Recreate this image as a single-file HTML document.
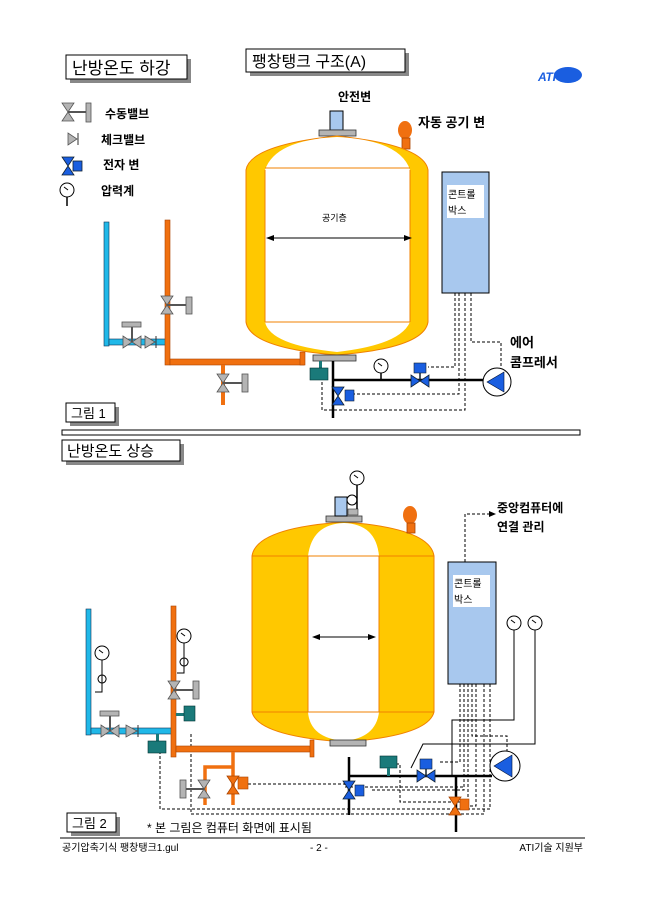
<!DOCTYPE html>
<html><head><meta charset="utf-8"><style>
html,body{margin:0;padding:0;background:#fff;}
svg{display:block;}
text{font-family:"Liberation Sans","Noto Sans CJK KR",sans-serif;fill:#000;}
.b{font-weight:bold;}
</style></head><body>
<svg width="645" height="912" viewBox="0 0 645 912" xmlns="http://www.w3.org/2000/svg">
<defs>
<g id="bv"><path d="M-6,-9 L6,-9 L0,0 Z M-6,9 L6,9 L0,0 Z" fill="#b4b4b4" stroke="#555" stroke-width="0.8"/></g>
<g id="bh"><path d="M-9,-6 L-9,6 L0,0 Z M9,-6 L9,6 L0,0 Z" fill="#b4b4b4" stroke="#555" stroke-width="0.8"/></g>
<g id="sv"><path d="M-6,-9 L6,-9 L0,0 Z M-6,9 L6,9 L0,0 Z" fill="#1a5ee0" stroke="#123" stroke-width="0.8"/></g>
<g id="sh"><path d="M-9,-6 L-9,6 L0,0 Z M9,-6 L9,6 L0,0 Z" fill="#1a5ee0" stroke="#123" stroke-width="0.8"/></g>
<g id="ov"><path d="M-6,-9 L6,-9 L0,0 Z M-6,9 L6,9 L0,0 Z" fill="#f07010" stroke="#a40" stroke-width="0.8"/></g>
<g id="g"><circle cx="0" cy="0" r="7" fill="#fff" stroke="#000"/><line x1="-3" y1="-3" x2="1" y2="0" stroke="#000"/></g>
</defs>

<rect x="70" y="59" width="121" height="24" fill="#888"/>
<rect x="66" y="55" width="121" height="24" fill="#fff" stroke="#000"/>
<text x="72" y="74" font-size="17">난방온도 하강</text>
<rect x="250" y="53" width="159" height="23" fill="#888"/>
<rect x="246" y="49" width="159" height="23" fill="#fff" stroke="#000"/>
<text x="252" y="67" font-size="16">팽창탱크 구조(A)</text>
<ellipse cx="568" cy="75" rx="14" ry="8" fill="#1a5ee0"/>
<text x="538" y="81" font-size="12" font-style="italic" class="b" style="fill:#1a5ee0" textLength="18">ATI</text>

<use href="#bv" x="68" y="112"/><line x1="68" y1="112" x2="86" y2="112" stroke="#555" stroke-width="2"/><rect x="86" y="103" width="5" height="19" fill="#b4b4b4" stroke="#555" stroke-width="0.8"/>
<text x="105" y="118" font-size="12" class="b">수동밸브</text>
<path d="M68,133 L68,145 L77,139 Z" fill="#b4b4b4" stroke="#555" stroke-width="0.8"/><line x1="78" y1="133" x2="78" y2="145" stroke="#333"/>
<text x="101" y="144" font-size="12" class="b">체크밸브</text>
<use href="#sv" x="68" y="166"/><rect x="73" y="161" width="9" height="10" fill="#1a5ee0" stroke="#123" stroke-width="0.8"/>
<text x="103" y="169" font-size="12" class="b">전자 변</text>
<use href="#g" x="67" y="190"/><line x1="67" y1="197" x2="67" y2="206" stroke="#000" stroke-width="1.5"/>
<text x="101" y="195" font-size="12" class="b">압력계</text>

<text x="338" y="101" font-size="12" class="b">안전변</text>
<rect x="330" y="111" width="13" height="19" fill="#a8c8ee" stroke="#000"/>
<rect x="319" y="130" width="37" height="6" fill="#b4b4b4" stroke="#333" stroke-width="0.8"/>
<ellipse cx="405" cy="130" rx="7" ry="9" fill="#f07010"/>
<rect x="402" y="138" width="8" height="11" fill="#f07010" stroke="#a40" stroke-width="0.8"/>
<text x="418" y="127" font-size="13" class="b">자동 공기 변</text>
<path d="M246,170 Q250,145 337,136 Q424,145 428,170 L428,322 Q424,348 337,355 Q250,348 246,322 Z" fill="#ffc800" stroke="#f08000" stroke-width="1"/>
<path d="M265,170 Q275,140 337,137 Q400,140 410,170 L410,322 Q400,345 337,352 Q270,345 265,322 Z" fill="#fff"/>
<line x1="265" y1="168" x2="410" y2="168" stroke="#f08000"/>
<line x1="265" y1="322" x2="410" y2="322" stroke="#f08000"/>
<line x1="265" y1="170" x2="265" y2="322" stroke="#f08000"/>
<line x1="410" y1="170" x2="410" y2="322" stroke="#f08000"/>
<text x="322" y="221" font-size="9">공기층</text>
<line x1="270" y1="238" x2="408" y2="238" stroke="#000"/>
<path d="M266,238 L274,235 L274,241 Z M412,238 L404,235 L404,241 Z" fill="#000"/>
<rect x="442" y="172" width="47" height="121" fill="#a8c8ee" stroke="#000"/>
<rect x="447" y="185" width="37" height="33" fill="#fff"/>
<text x="448" y="198" font-size="10">콘트롤</text>
<text x="448" y="214" font-size="10">박스</text>
<g fill="none" stroke="#000" stroke-dasharray="3,2">
<path d="M455,293 L455,367 L428,367"/>
<path d="M459,293 L459,394 L348,394"/>
<path d="M465,293 L465,410 L322,410 L322,380"/>
<path d="M471,293 L471,342 L501,342 L501,367"/>
</g>
<rect x="104" y="222" width="5" height="124" fill="#20b8e8" stroke="#135" stroke-width="0.6"/>
<rect x="109" y="339" width="57" height="6" fill="#20b8e8" stroke="#135" stroke-width="0.6"/>
<rect x="165" y="220" width="5" height="145" fill="#f07010" stroke="#a40" stroke-width="0.6"/>
<rect x="170" y="359" width="134" height="6" fill="#f07010" stroke="#a40" stroke-width="0.6"/>
<rect x="300" y="352" width="5" height="13" fill="#f07010" stroke="#a40" stroke-width="0.6"/>
<rect x="221" y="365" width="4" height="40" fill="#f07010"/>
<use href="#bv" x="167" y="305"/><line x1="167" y1="305" x2="186" y2="305" stroke="#555" stroke-width="2"/><rect x="186" y="297" width="6" height="17" fill="#b4b4b4" stroke="#555" stroke-width="0.8"/>
<use href="#bh" x="132" y="342"/><line x1="132" y1="342" x2="132" y2="327" stroke="#555" stroke-width="2"/><rect x="122" y="322" width="19" height="5" fill="#b4b4b4" stroke="#555" stroke-width="0.8"/>
<path d="M145,336 L145,348 L155,342 Z" fill="#b4b4b4" stroke="#555" stroke-width="0.8"/><line x1="156" y1="336" x2="156" y2="348" stroke="#333"/>
<use href="#bv" x="223" y="383"/><line x1="223" y1="383" x2="242" y2="383" stroke="#555" stroke-width="2"/><rect x="242" y="374" width="6" height="18" fill="#b4b4b4" stroke="#555" stroke-width="0.8"/>
<rect x="313" y="355" width="43" height="6" fill="#b4b4b4" stroke="#333" stroke-width="0.8"/>
<line x1="333" y1="361" x2="333" y2="418" stroke="#000" stroke-width="2.5"/>
<line x1="333" y1="380" x2="483" y2="380" stroke="#000" stroke-width="2.5"/>
<rect x="319" y="361" width="3" height="8" fill="#1a7a7a"/>
<rect x="310" y="368" width="18" height="12" fill="#1a7a7a" stroke="#033" stroke-width="0.6"/>
<use href="#g" x="381" y="366"/><line x1="381" y1="373" x2="381" y2="380" stroke="#000" stroke-width="1.5"/>
<use href="#sh" x="420" y="381"/><line x1="420" y1="381" x2="420" y2="372" stroke="#123" stroke-width="1.5"/><rect x="414" y="363" width="12" height="10" fill="#1a5ee0" stroke="#123" stroke-width="0.6"/>
<use href="#sv" x="338" y="396"/><rect x="345" y="390" width="9" height="11" fill="#1a5ee0" stroke="#123" stroke-width="0.6"/>
<circle cx="497" cy="382" r="14" fill="#fff" stroke="#000"/>
<path d="M487,382 L504,372 L504,392 Z" fill="#1a5ee0" stroke="#013" stroke-width="0.6"/>
<text x="510" y="347" font-size="13" class="b">에어</text>
<text x="510" y="367" font-size="13" class="b">콤프레서</text>
<rect x="70" y="407" width="49" height="19" fill="#888"/>
<rect x="66" y="403" width="49" height="19" fill="#fff" stroke="#000"/>
<text x="71" y="418" font-size="13">그림 1</text>
<rect x="62" y="430" width="518" height="5" fill="#fff" stroke="#000"/>

<rect x="66" y="444" width="118" height="21" fill="#888"/>
<rect x="62" y="440" width="118" height="21" fill="#fff" stroke="#000"/>
<text x="67" y="456" font-size="15">난방온도 상승</text>
<path d="M252,556 Q256,528 344,522 Q430,528 434,556 L434,712 Q428,736 344,742 Q258,736 252,712 Z" fill="#ffc800" stroke="#f08000"/>
<path d="M308,556 Q312,524 344,523 Q376,524 379,556 L379,712 Q376,738 344,741 Q310,738 308,712 Z" fill="#fff"/>
<line x1="252" y1="556" x2="434" y2="556" stroke="#f08000"/>
<line x1="252" y1="712" x2="434" y2="712" stroke="#f08000"/>
<line x1="308" y1="556" x2="308" y2="712" stroke="#f08000"/>
<line x1="379" y1="556" x2="379" y2="712" stroke="#f08000"/>
<rect x="309" y="557" width="69" height="154" fill="#fff"/>
<line x1="314" y1="637" x2="374" y2="637" stroke="#000"/>
<path d="M312,637 L320,634 L320,640 Z M376,637 L368,634 L368,640 Z" fill="#000"/>
<rect x="326" y="516" width="36" height="6" fill="#b4b4b4" stroke="#333" stroke-width="0.8"/>
<rect x="335" y="497" width="12" height="19" fill="#a8c8ee" stroke="#000"/>
<rect x="348" y="509" width="10" height="6" fill="#b4b4b4" stroke="#333" stroke-width="0.6"/>
<circle cx="352" cy="500" r="5" fill="#fff" stroke="#000"/>
<line x1="357" y1="484" x2="357" y2="509" stroke="#000" stroke-width="1.5"/>
<use href="#g" x="357" y="478"/>
<ellipse cx="410" cy="515" rx="7" ry="9" fill="#f07010"/>
<rect x="407" y="523" width="8" height="10" fill="#f07010" stroke="#a40" stroke-width="0.8"/>
<rect x="448" y="562" width="48" height="122" fill="#a8c8ee" stroke="#000"/>
<rect x="453" y="575" width="37" height="32" fill="#fff"/>
<text x="454" y="587" font-size="10">콘트롤</text>
<text x="454" y="603" font-size="10">박스</text>
<path d="M465,562 L465,514 L490,514" fill="none" stroke="#000" stroke-dasharray="3,2"/>
<path d="M489,511 L496,514 L489,517 Z" fill="#000"/>
<text x="497" y="512" font-size="12" class="b">중앙컴퓨터에</text>
<text x="497" y="531" font-size="12" class="b">연결 관리</text>
<use href="#g" x="514" y="623"/><use href="#g" x="535" y="623"/>
<path d="M514,630 L514,720 L452,720 L452,776" fill="none" stroke="#000" stroke-width="1"/>
<path d="M535,630 L535,744 L423,744 L411,768" fill="none" stroke="#000" stroke-width="1"/>
<g fill="none" stroke="#000" stroke-dasharray="3,2">
<path d="M460,684 L460,762 L440,762"/>
<path d="M464,684 L464,790 L370,790"/>
<path d="M468,684 L468,802 L400,802 L400,764 L392,764"/>
<path d="M472,684 L472,736 L507,736 L507,752"/>
<path d="M476,684 L476,806 L467,806"/>
<path d="M484,684 L484,814 L191,814 L191,732"/>
<path d="M490,684 L490,809 L160,809 L160,752"/>
<path d="M248,784 L345,784 L345,787 L465,787"/>
</g>
<rect x="86" y="609" width="5" height="126" fill="#20b8e8" stroke="#135" stroke-width="0.6"/>
<rect x="91" y="728" width="82" height="6" fill="#20b8e8" stroke="#135" stroke-width="0.6"/>
<rect x="171" y="606" width="5" height="151" fill="#f07010" stroke="#a40" stroke-width="0.6"/>
<rect x="176" y="746" width="136" height="6" fill="#f07010" stroke="#a40" stroke-width="0.6"/>
<rect x="310" y="740" width="4" height="17" fill="#f07010" stroke="#a40" stroke-width="0.6"/>
<path d="M233,752 L233,805 M233,767 L205,767 L205,805" fill="none" stroke="#f07010" stroke-width="3.5"/>
<use href="#g" x="102" y="653"/><path d="M102,660 L102,692 L95,692 M102,675 a4,4 0 1 0 0.1,0" fill="none" stroke="#000"/>
<use href="#g" x="184" y="636"/><path d="M184,643 L184,673 L177,673 M184,658 a4,4 0 1 0 0.1,0" fill="none" stroke="#000"/>
<use href="#bh" x="110" y="731"/><line x1="110" y1="731" x2="110" y2="716" stroke="#555" stroke-width="2"/><rect x="100" y="711" width="19" height="5" fill="#b4b4b4" stroke="#555" stroke-width="0.8"/>
<path d="M126,725 L126,737 L137,731 Z" fill="#b4b4b4" stroke="#555" stroke-width="0.8"/><line x1="138" y1="725" x2="138" y2="737" stroke="#333"/>
<use href="#bv" x="174" y="690"/><line x1="174" y1="690" x2="193" y2="690" stroke="#555" stroke-width="2"/><rect x="193" y="681" width="6" height="18" fill="#b4b4b4" stroke="#555" stroke-width="0.8"/>
<rect x="176" y="713" width="9" height="3" fill="#1a7a7a"/><rect x="184" y="706" width="11" height="15" fill="#1a7a7a" stroke="#033" stroke-width="0.6"/>
<rect x="156" y="734" width="3" height="8" fill="#1a7a7a"/><rect x="148" y="741" width="18" height="12" fill="#1a7a7a" stroke="#033" stroke-width="0.6"/>
<use href="#bv" x="204" y="789"/><line x1="204" y1="789" x2="186" y2="789" stroke="#555" stroke-width="2"/><rect x="180" y="780" width="6" height="18" fill="#b4b4b4" stroke="#555" stroke-width="0.8"/>
<use href="#ov" x="233" y="785"/><rect x="238" y="777" width="10" height="12" fill="#f07010" stroke="#a40" stroke-width="0.6"/>
<rect x="330" y="740" width="36" height="6" fill="#b4b4b4" stroke="#333" stroke-width="0.8"/>
<line x1="349" y1="757" x2="349" y2="815" stroke="#000" stroke-width="2.5"/>
<line x1="349" y1="776" x2="492" y2="776" stroke="#000" stroke-width="2.5"/>
<line x1="456" y1="776" x2="456" y2="832" stroke="#000" stroke-width="2.5"/>
<use href="#sv" x="349" y="790"/><rect x="355" y="785" width="9" height="11" fill="#1a5ee0" stroke="#123" stroke-width="0.6"/>
<rect x="380" y="756" width="17" height="12" fill="#1a7a7a" stroke="#033" stroke-width="0.6"/><rect x="387" y="768" width="3" height="8" fill="#1a7a7a"/>
<use href="#sh" x="426" y="776"/><line x1="426" y1="776" x2="426" y2="768" stroke="#123" stroke-width="1.5"/><rect x="420" y="759" width="12" height="10" fill="#1a5ee0" stroke="#123" stroke-width="0.6"/>
<use href="#ov" x="455" y="806"/><rect x="460" y="799" width="9" height="11" fill="#f07010" stroke="#a40" stroke-width="0.6"/>
<circle cx="505" cy="766" r="15" fill="#fff" stroke="#000"/>
<path d="M494,766 L512,755 L512,777 Z" fill="#1a5ee0" stroke="#013" stroke-width="0.6"/>
<rect x="71" y="817" width="49" height="19" fill="#888"/>
<rect x="67" y="813" width="49" height="19" fill="#fff" stroke="#000"/>
<text x="72" y="828" font-size="13">그림 2</text>
<text x="147" y="832" font-size="12">* 본 그림은 컴퓨터 화면에 표시됨</text>
<line x1="60" y1="838" x2="585" y2="838" stroke="#000"/>
<text x="62" y="851" font-size="10">공기압축기식 팽창탱크1.gul</text>
<text x="310" y="851" font-size="10">- 2 -</text>
<text x="583" y="851" font-size="10" text-anchor="end">ATI기술 지원부</text>
</svg>
</body></html>
